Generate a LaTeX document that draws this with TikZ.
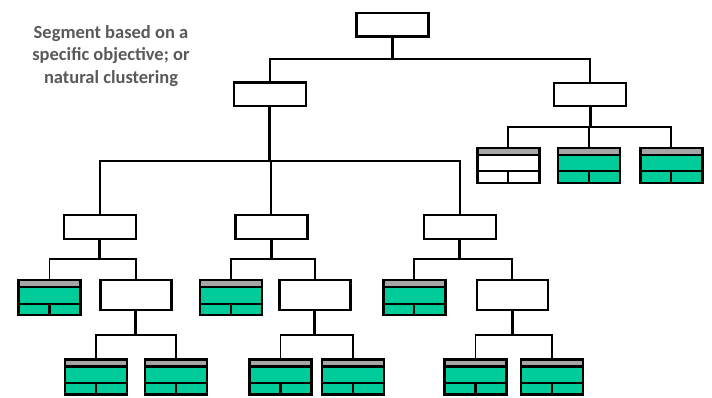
\documentclass[tikz,border=0pt]{standalone}
\usepackage{fontspec}
\setmainfont{Carlito}
\usetikzlibrary{calc}
\definecolor{segteal}{HTML}{00CC99}
\definecolor{bandgray}{HTML}{A6A6A6}
\definecolor{notegray}{HTML}{595959}

\begin{document}
\begin{tikzpicture}[
    x=1pt, y=1pt,
    wbox/.style={rectangle, draw, line width=2.4pt, fill=white, minimum width=72pt, minimum height=23.5pt, inner sep=0pt},
    tallbox/.style={wbox, minimum width=71pt, minimum height=30.5pt},
    recbox/.style={rectangle, draw, line width=2.4pt, fill=#1, minimum width=62pt, minimum height=35pt, inner sep=0pt,
        path picture={
            \fill[bandgray] (path picture bounding box.north west) rectangle ([yshift=-7pt]path picture bounding box.north east);
            \draw[line width=2.2pt] ([yshift=-7pt]path picture bounding box.north west) -- ([yshift=-7pt]path picture bounding box.north east);
            \draw[line width=2.2pt] ([yshift=11.5pt]path picture bounding box.south west) -- ([yshift=11.5pt]path picture bounding box.south east);
            \draw[line width=2.2pt] (path picture bounding box.south) -- ([yshift=11.5pt]path picture bounding box.south);
        }},
    recbox/.default=segteal,
    link/.style={line width=1.8pt},
    stem/.style={line width=3pt},
    note/.style={align=center, text=notegray, font=\fontsize{18.5}{22.5}\selectfont\bfseries}
]
\useasboundingbox (0,0) rectangle (712,397);

% ========== NOTA ==========
\node[note] (note) at (111,341) {Segment based on a\\specific objective; or\\natural clustering};

% ========== NIVEL 0 y 1 ==========
\node[wbox] (root) at (392.5,372.3) {};
\node[wbox] (segA) at (269.8,302.8) {};
\node[wbox] (segB) at (590,302.5) {};

% Rama derecha
\node[recbox=white] (recR1) at (508.3,231.7) {};
\node[recbox] (recR2) at (589,231.7) {};
\node[recbox] (recR3) at (671.3,231.7) {};

% ========== NIVEL 2 ==========
\node[wbox] (grpA) at (99.7,170) {};
\node[wbox] (grpB) at (271.3,170) {};
\node[wbox] (grpC) at (459.7,170) {};

% ========== NIVEL 3 ==========
\node[recbox] (recA) at (49.5,99.3) {};
\node[tallbox] (subA) at (135.8,102) {};
\node[recbox] (recB) at (230.8,99.3) {};
\node[tallbox] (subB) at (314.8,102) {};
\node[recbox] (recC) at (414.3,99.3) {};
\node[tallbox] (subC) at (512.2,102) {};

% ========== NIVEL 4 ==========
\node[recbox] (recAa) at (96,20) {};
\node[recbox] (recAb) at (175.8,20) {};
\node[recbox] (recBa) at (280.5,20) {};
\node[recbox] (recBb) at (353,20) {};
\node[recbox] (recCa) at (475.5,20) {};
\node[recbox] (recCb) at (551.8,20) {};

% Coordenadas para las lineas horizontales
\coordinate (busRoot) at ($(root.south)+(0,-21.6)$);
\coordinate (busSegA) at ($(segA.south)+(0,-53.5)$);
\coordinate (busSegB) at ($(segB.south)+(0,-19.5)$);
\coordinate (busGrpA) at ($(grpA.south)+(0,-19.3)$);
\coordinate (busGrpB) at ($(grpB.south)+(0,-19.3)$);
\coordinate (busGrpC) at ($(grpC.south)+(0,-19.3)$);
\coordinate (busSubA) at ($(subA.south)+(0,-23.5)$);
\coordinate (busSubB) at ($(subB.south)+(0,-23.5)$);
\coordinate (busSubC) at ($(subC.south)+(0,-23.5)$);

% Troncos
\draw[stem] (root.south) -- (busRoot);
\draw[stem] (segA.south) -- (busSegA);
\draw[stem] (segB.south) -- (busSegB);
\draw[stem] (grpA.south) -- (busGrpA);
\draw[stem] (grpB.south) -- (busGrpB);
\draw[stem] (grpC.south) -- (busGrpC);
\draw[stem] (subA.south) -- (busSubA);
\draw[stem] (subB.south) -- (busSubB);
\draw[stem] (subC.south) -- (busSubC);

% Ramas
\draw[link] (busRoot) -| (segA.north);
\draw[link] (busRoot) -| (segB.north);
\draw[link] (busSegB) -| (recR1.north);
\draw[link] (busSegB) -| (recR2.north);
\draw[link] (busSegB) -| (recR3.north);
\draw[link] (busSegA) -| (grpA.north);
\draw[link] (busSegA) -| (grpB.north);
\draw[link] (busSegA) -| (grpC.north);
\draw[link] (busGrpA) -| (recA.north);
\draw[link] (busGrpA) -| (subA.north);
\draw[link] (busGrpB) -| (recB.north);
\draw[link] (busGrpB) -| (subB.north);
\draw[link] (busGrpC) -| (recC.north);
\draw[link] (busGrpC) -| (subC.north);
\draw[link] (busSubA) -| (recAa.north);
\draw[link] (busSubA) -| (recAb.north);
\draw[link] (busSubB) -| (recBa.north);
\draw[link] (busSubB) -| (recBb.north);
\draw[link] (busSubC) -| (recCa.north);
\draw[link] (busSubC) -| (recCb.north);

\end{tikzpicture}
\end{document}
